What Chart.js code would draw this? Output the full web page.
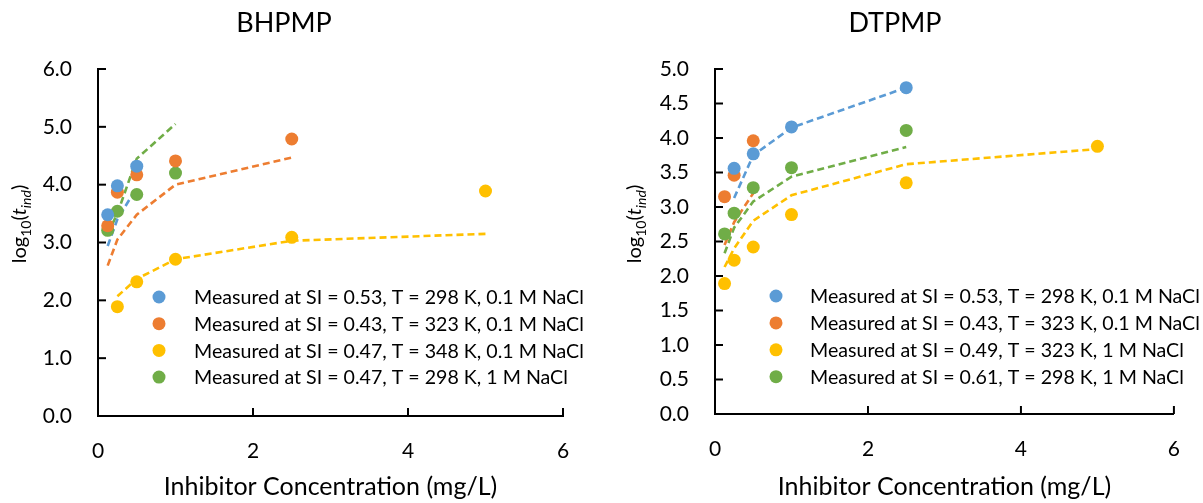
<!DOCTYPE html>
<html>
<head>
<meta charset="utf-8">
<script src="https://cdn.jsdelivr.net/npm/chart.js@4.4.1/dist/chart.umd.min.js"></script>
<style>
  html, body { margin: 0; padding: 0; background: #fff; }
  #wrap { position: relative; width: 1203px; height: 503px; }
  .box { position: absolute; top: 0; height: 503px; }
  #left { left: 0; width: 600px; }
  #right { left: 600px; width: 603px; }
</style>
</head>
<body>
<div id="wrap">
  <div class="box" id="left"><canvas id="bhp"></canvas></div>
  <div class="box" id="right"><canvas id="dtp"></canvas></div>
</div>
<script>
// Series colours (Office palette)
const colors = ['#5B9BD5', '#ED7D31', '#FFC000', '#70AD47'];

// BHPMP panel
const bhpLabels = [
  'Measured at SI = 0.53, T = 298 K, 0.1 M NaCl',
  'Measured at SI = 0.43, T = 323 K, 0.1 M NaCl',
  'Measured at SI = 0.47, T = 348 K, 0.1 M NaCl',
  'Measured at SI = 0.47, T = 298 K, 1 M NaCl'
];
const bhpConc = [
  [0.125, 0.25, 0.5],
  [0.125, 0.25, 0.5, 1, 2.5],
  [0.25, 0.5, 1, 2.5, 5],
  [0.125, 0.25, 0.5, 1]
];
const bhpMeasured = [
  [3.48, 3.98, 4.32],
  [3.29, 3.87, 4.17, 4.41, 4.79],
  [1.89, 2.32, 2.71, 3.09, 3.89],
  [3.21, 3.54, 3.83, 4.20]
];
const bhpModel = [
  [2.94, 3.40, 3.95],
  [2.60, 3.05, 3.48, 4.00, 4.47],
  [2.07, 2.37, 2.71, 3.03, 3.15],
  [3.15, 3.50, 4.45, 5.05]
];

// DTPMP panel
const dtpLabels = [
  'Measured at SI = 0.53, T = 298 K, 0.1 M NaCl',
  'Measured at SI = 0.43, T = 323 K, 0.1 M NaCl',
  'Measured at SI = 0.49, T = 323 K, 1 M NaCl',
  'Measured at SI = 0.61, T = 298 K, 1 M NaCl'
];
const dtpConc = [
  [0.25, 0.5, 1, 2.5],
  [0.125, 0.25, 0.5],
  [0.125, 0.25, 0.5, 1, 2.5, 5],
  [0.125, 0.25, 0.5, 1, 2.5]
];
const dtpMeasured = [
  [3.56, 3.77, 4.16, 4.73],
  [3.15, 3.46, 3.96],
  [1.89, 2.23, 2.42, 2.89, 3.35, 3.88],
  [2.61, 2.91, 3.28, 3.57, 4.11]
];
const dtpModel = [
  [3.13, 3.75, 4.15, 4.73],
  [2.45, 2.78, 3.20],
  [2.13, 2.40, 2.80, 3.17, 3.62, 3.84],
  [2.33, 2.70, 3.08, 3.44, 3.87]
];

const xTicks = { min: 0, max: 6, step: 2 };
const FONT = 'Lato';

function makeChart(id, title, labels, conc, measured, model, g) {
  const datasets = [];
  labels.forEach(function(lab, i) {
    datasets.push({
      label: lab,
      data: conc[i].map((x, j) => ({ x: x, y: measured[i][j] })),
      backgroundColor: colors[i],
      borderWidth: 0,
      pointRadius: 6.5,
      pointHoverRadius: 6.5,
      order: 0
    });
  });
  labels.forEach(function(lab, i) {
    datasets.push({
      label: 'model ' + i,
      data: conc[i].map((x, j) => ({ x: x, y: model[i][j] })),
      showLine: true,
      borderColor: colors[i],
      borderWidth: 2.6,
      borderDash: [7, 4],
      pointRadius: 0,
      fill: false,
      order: 1
    });
  });

  // titles, y label, inside tick marks, legend
  const decor = {
    id: 'decor',
    afterDraw(chart) {
      const ctx = chart.ctx;
      const area = chart.chartArea;
      const xs = chart.scales.x, ys = chart.scales.y;
      ctx.save();

      // inside tick marks
      ctx.strokeStyle = '#000';
      ctx.lineWidth = 2;
      ys.ticks.forEach(function(t) {
        const py = ys.getPixelForValue(t.value);
        ctx.beginPath(); ctx.moveTo(area.left, py); ctx.lineTo(area.left + 8, py); ctx.stroke();
      });
      xs.ticks.forEach(function(t) {
        if (t.value === xTicks.min) return;
        const px = xs.getPixelForValue(t.value);
        ctx.beginPath(); ctx.moveTo(px, area.bottom); ctx.lineTo(px, area.bottom - 8); ctx.stroke();
      });

      // title
      ctx.fillStyle = '#000';
      ctx.font = '27px ' + FONT;
      ctx.textAlign = 'center';
      ctx.textBaseline = 'middle';
      ctx.fillText(title, g.titleX, 23);

      // rotated y label: log10(t_ind)
      const parts = [
        { t: 'log', f: '20px ' + FONT, dy: 0 },
        { t: '10', f: '14px ' + FONT, dy: 5 },
        { t: '(', f: '20px ' + FONT, dy: 0 },
        { t: 't', f: 'italic 20px ' + FONT, dy: 0 },
        { t: 'ind', f: 'italic 14px ' + FONT, dy: 5 },
        { t: ')', f: '20px ' + FONT, dy: 0 }
      ];
      let total = 0;
      parts.forEach(function(p) { ctx.font = p.f; p.w = ctx.measureText(p.t).width; total += p.w; });
      ctx.translate(g.yLabelX, g.yLabelY);
      ctx.rotate(-Math.PI / 2);
      ctx.textAlign = 'left';
      ctx.textBaseline = 'alphabetic';
      let cx = -total / 2;
      parts.forEach(function(p) { ctx.font = p.f; ctx.fillText(p.t, cx, 7 + p.dy); cx += p.w; });
      ctx.setTransform(1, 0, 0, 1, 0, 0);

      // legend inside the plot
      ctx.font = '19.6px ' + FONT;
      ctx.textBaseline = 'middle';
      ctx.textAlign = 'left';
      labels.forEach(function(lab, i) {
        const y = g.legendTop + i * g.legendStep;
        ctx.fillStyle = colors[i];
        ctx.beginPath(); ctx.arc(g.markerX, y, 6.5, 0, Math.PI * 2); ctx.fill();
        ctx.fillStyle = '#000';
        ctx.fillText(lab, g.textX, y + 1);
      });
      ctx.restore();
    }
  };

  return new Chart(document.getElementById(id), {
    type: 'scatter',
    data: { datasets: datasets },
    plugins: [decor],
    options: {
      responsive: true,
      maintainAspectRatio: false,
      animation: false,
      layout: { padding: { left: 0, top: g.top, right: g.width - g.right, bottom: 0 } },
      plugins: { legend: { display: false }, tooltip: { enabled: false } },
      scales: {
        x: {
          type: 'linear',
          min: xTicks.min,
          max: xTicks.max,
          afterFit: function(s) { s.height = 503 - g.bottom; },
          grid: { display: false, drawTicks: false },
          border: { color: '#000', width: 2 },
          ticks: { stepSize: xTicks.step, padding: 23, color: '#000', font: { family: FONT, size: 21 } },
          title: { display: true, text: 'Inhibitor Concentration (mg/L)', color: '#000',
                   font: { family: FONT, size: 25 }, padding: { top: 0, bottom: 1 } }
        },
        y: {
          type: 'linear',
          min: 0,
          max: g.yMax,
          afterFit: function(s) { s.width = g.left; },
          grid: { display: false, drawTicks: false },
          border: { color: '#000', width: 2 },
          ticks: { stepSize: g.yStep, padding: 26, color: '#000', font: { family: FONT, size: 21 },
                   callback: function(v) { return v.toFixed(1); } }
        }
      }
    }
  });
}

makeChart('bhp', 'BHPMP', bhpLabels, bhpConc, bhpMeasured, bhpModel, {
  width: 600, left: 98, right: 563, top: 69, bottom: 416, yMax: 6, yStep: 1,
  titleX: 284, yLabelX: 19, yLabelY: 224, markerX: 159, textX: 194, legendTop: 297, legendStep: 26.7
});
makeChart('dtp', 'DTPMP', dtpLabels, dtpConc, dtpMeasured, dtpModel, {
  width: 603, left: 115, right: 578, top: 69, bottom: 414, yMax: 5, yStep: 0.5,
  titleX: 295, yLabelX: 34, yLabelY: 224, markerX: 176, textX: 210, legendTop: 296, legendStep: 26.9
});
</script>
</body>
</html>
